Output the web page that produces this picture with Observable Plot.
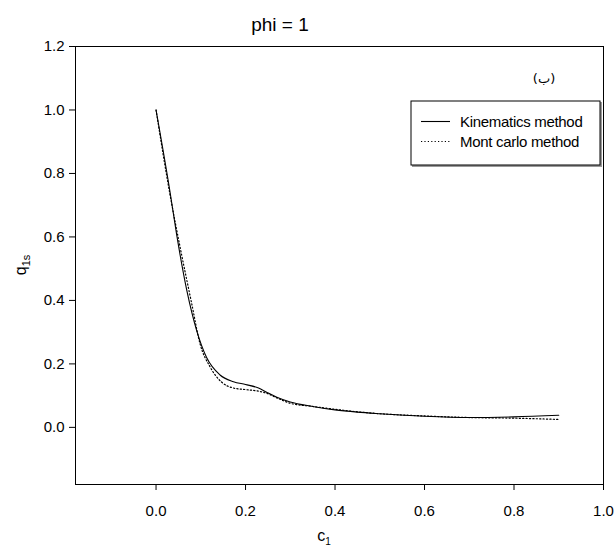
<!DOCTYPE html>
<html>
<head>
<meta charset="utf-8">
<script src="https://cdn.jsdelivr.net/npm/d3@7"></script>
<script src="https://cdn.jsdelivr.net/npm/@observablehq/plot@0.6"></script>
<style>
  html, body { margin: 0; padding: 0; background: #fff; }
  #chart svg { display: block; font-family: "Liberation Sans", Arial, sans-serif; }
</style>
</head>
<body>
<div id="chart"></div>
<script>
const title = "phi = 1";
const panelTag = "(ب)";
const seriesNames = ["Kinematics method", "Mont carlo method"];

const kinX = [0, 0.031, 0.046, 0.069, 0.091, 0.113, 0.143, 0.173, 0.2, 0.229, 0.248, 0.27, 0.3, 0.35, 0.4, 0.45, 0.5, 0.6, 0.7, 0.8, 0.9];
const kinY = [1.0, 0.744, 0.608, 0.43, 0.304, 0.22, 0.165, 0.144, 0.135, 0.124, 0.11, 0.095, 0.08, 0.066, 0.055, 0.048, 0.043, 0.035, 0.031, 0.033, 0.038];

const mcX = [0, 0.031, 0.054, 0.08, 0.098, 0.121, 0.147, 0.173, 0.2, 0.229, 0.248, 0.27, 0.3, 0.35, 0.4, 0.45, 0.5, 0.6, 0.7, 0.8, 0.9];
const mcY = [1.0, 0.735, 0.566, 0.388, 0.265, 0.19, 0.142, 0.124, 0.119, 0.114, 0.107, 0.093, 0.076, 0.066, 0.057, 0.049, 0.043, 0.036, 0.031, 0.029, 0.025];

const xTicks = [0, 0.2, 0.4, 0.6, 0.8, 1.0];
const yTicks = [0, 0.2, 0.4, 0.6, 0.8, 1.0, 1.2];

const kin = kinX.map((x, i) => ({x, y: kinY[i]}));
const mc = mcX.map((x, i) => ({x, y: mcY[i]}));

const W = 615, H = 549;
const mL = 75, mR = 12, mT = 46, mB = 65;

const plot = Plot.plot({
  width: W,
  height: H,
  marginLeft: mL,
  marginRight: mR,
  marginTop: mT,
  marginBottom: mB,
  style: {fontFamily: "Liberation Sans, Arial, sans-serif", background: "#fff"},
  x: {domain: [-0.18, 1.0]},
  y: {domain: [-0.18, 1.2]},
  marks: [
    Plot.frame({stroke: "#000", strokeWidth: 1}),
    Plot.axisX({ticks: xTicks, tickFormat: d3.format(".1f"), tickSize: 6, tickPadding: 15, fontSize: 15, label: null, color: "#000"}),
    Plot.axisY({ticks: yTicks, tickFormat: d3.format(".1f"), tickSize: 6, tickPadding: 5, fontSize: 15, label: null, color: "#000"}),
    Plot.line(mc, {x: "x", y: "y", curve: "monotone-x", stroke: "#000", strokeWidth: 1.2, strokeDasharray: "1.2,2.2"}),
    Plot.line(kin, {x: "x", y: "y", curve: "monotone-x", stroke: "#000", strokeWidth: 1.1})
  ]
});

document.getElementById("chart").appendChild(plot);

const svg = d3.select(plot);
const font = "Liberation Sans, Arial, sans-serif";

// Title
svg.append("text")
  .attr("x", 280).attr("y", 31)
  .attr("text-anchor", "middle")
  .attr("font-family", font).attr("font-size", 19)
  .attr("fill", "#000")
  .text(title);

// Y label q_1s
const yl = svg.append("text")
  .attr("transform", `translate(26,${(mT + H - mB) / 2}) rotate(-90)`)
  .attr("text-anchor", "middle")
  .attr("font-family", font).attr("font-size", 16)
  .attr("fill", "#000");
yl.append("tspan").text("q");
yl.append("tspan").attr("font-size", 11).attr("dy", 4).text("1s");

// X label c_1
const xl = svg.append("text")
  .attr("x", 324).attr("y", 541)
  .attr("text-anchor", "middle")
  .attr("font-family", font).attr("font-size", 16)
  .attr("fill", "#000");
xl.append("tspan").text("c");
xl.append("tspan").attr("font-size", 10).attr("dy", 4).text("1");

// Panel tag
svg.append("text")
  .attr("x", 544).attr("y", 83)
  .attr("text-anchor", "middle")
  .attr("font-family", "DejaVu Sans, Noto Sans, sans-serif").attr("font-size", 13)
  .attr("fill", "#000")
  .text(panelTag);

// Legend
const lg = svg.append("g").attr("text-anchor", "start");
lg.append("rect").attr("x", 412).attr("y", 102).attr("width", 190).attr("height", 65).attr("fill", "#999");
lg.append("rect").attr("x", 411).attr("y", 101).attr("width", 189).attr("height", 64).attr("fill", "#fff").attr("stroke", "#000").attr("stroke-width", 1);
const rows = [{name: seriesNames[0], dash: null, y: 121.5}, {name: seriesNames[1], dash: "1.2,2.2", y: 141.5}];
rows.forEach(r => {
  const ln = lg.append("line").attr("x1", 421).attr("x2", 450).attr("y1", r.y).attr("y2", r.y)
    .attr("stroke", "#000").attr("stroke-width", 1.1);
  if (r.dash) ln.attr("stroke-dasharray", r.dash);
  lg.append("text").attr("x", 460).attr("y", r.y).attr("dy", "0.35em")
    .attr("text-anchor", "start")
    .attr("font-family", font).attr("font-size", 15).attr("letter-spacing", "-0.3")
    .attr("fill", "#000").text(r.name);
});
</script>
</body>
</html>
